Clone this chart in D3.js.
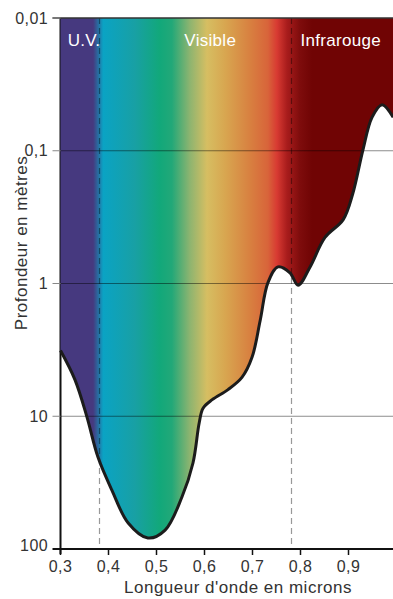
<!DOCTYPE html>
<html>
<head>
<meta charset="utf-8">
<script src="https://cdn.jsdelivr.net/npm/d3@7"></script>
<style>
  body { margin: 0; background: #fff; }
  text { font-family: "Liberation Sans", Arial, sans-serif; }
</style>
</head>
<body>
<div id="chart"></div>
<script>
// curve: penetration depth of light in water (m) by wavelength (microns)
const wavelengths = [0.300, 0.330, 0.355, 0.378, 0.407, 0.441, 0.482, 0.518, 0.553, 0.576, 0.589, 0.597,
  0.616, 0.649, 0.678, 0.699, 0.716, 0.732, 0.753, 0.778, 0.795, 0.820, 0.851, 0.889, 0.909, 0.930,
  0.949, 0.970, 0.993];
const depths = [3.2, 5.3, 10.1, 20.3, 36, 63.7, 82.6, 72, 40.6, 22.5, 11.2, 8.7,
  7.5, 6.3, 5.1, 3.6, 1.9, 0.99, 0.75, 0.83, 1.03, 0.75, 0.45, 0.33, 0.21, 0.099,
  0.056, 0.045, 0.056];

// spectrum colours along the wavelength axis
const spectrumWl = [0.300, 0.368, 0.389, 0.455, 0.507, 0.532, 0.569, 0.605, 0.643, 0.695, 0.732, 0.751, 0.772, 0.799, 0.824, 1.0];
const spectrumColors = ["#46397f", "#46397f", "#0aa3c4", "#18a0a4", "#12a87a", "#22a878", "#8cb470", "#d6be62",
  "#d8a650", "#d88040", "#d8643a", "#d83a32", "#a81c1c", "#7e0c0c", "#700404", "#700404"];

const xTicks = [0.3, 0.4, 0.5, 0.6, 0.7, 0.8, 0.9];
const yTicks = [0.01, 0.1, 1, 10, 100];
const gridValues = [0.1, 1, 10];
const bandLimits = [0.38, 0.78];
const bandLabels = [
  { label: "U.V.", wl: 0.315, anchor: "start" },
  { label: "Visible", wl: 0.612, anchor: "middle" },
  { label: "Infrarouge", wl: 0.8, anchor: "start" }
];

const W = 393, H = 599;
const svg = d3.select("#chart").append("svg")
  .attr("width", W)
  .attr("height", H);

const x = d3.scaleLinear().domain([0.3, 1.0]).range([60.5, 396.5]);
const y = d3.scaleLog().domain([0.01, 100]).range([18, 549]);

const fmt = d => String(d).replace(".", ",");
const data = wavelengths.map((w, i) => ({ w: w, d: depths[i] }));

// gradient
const grad = svg.append("defs").append("linearGradient")
  .attr("id", "spectrum")
  .attr("gradientUnits", "userSpaceOnUse")
  .attr("x1", x(0.3)).attr("y1", 0)
  .attr("x2", x(1.0)).attr("y2", 0);
grad.selectAll("stop")
  .data(spectrumWl)
  .enter().append("stop")
  .attr("offset", d => (d - 0.3) / 0.7)
  .attr("stop-color", (d, i) => spectrumColors[i]);

// left axis line (covered by fill on top)
svg.append("line")
  .attr("x1", x(0.3)).attr("x2", x(0.3))
  .attr("y1", y(0.01)).attr("y2", y(100) + 5)
  .attr("stroke", "#111").attr("stroke-width", 2);

// filled region above curve
const area = d3.area()
  .x(d => x(d.w))
  .y0(y(0.01))
  .y1(d => y(d.d))
  .curve(d3.curveCatmullRom.alpha(0.5));
svg.append("path")
  .datum(data)
  .attr("fill", "url(#spectrum)")
  .attr("d", area);

// grid lines
svg.selectAll(".grid")
  .data(gridValues)
  .enter().append("line")
  .attr("x1", x(0.3)).attr("x2", W)
  .attr("y1", d => y(d)).attr("y2", d => y(d))
  .attr("stroke", "rgba(0,0,0,0.45)")
  .attr("stroke-width", 1);

// band limits
svg.selectAll(".band")
  .data(bandLimits)
  .enter().append("line")
  .attr("x1", d => Math.round(x(d)) + 0.5).attr("x2", d => Math.round(x(d)) + 0.5)
  .attr("y1", y(0.01)).attr("y2", y(100))
  .attr("stroke", "rgba(0,0,0,0.4)")
  .attr("stroke-width", 1.2)
  .attr("stroke-dasharray", "6,4");

// curve line
const line = d3.line()
  .x(d => x(d.w))
  .y(d => y(d.d))
  .curve(d3.curveCatmullRom.alpha(0.5));
svg.append("path")
  .datum(data)
  .attr("fill", "none")
  .attr("stroke", "#1c1c1c")
  .attr("stroke-width", 3)
  .attr("stroke-linejoin", "round")
  .attr("d", line);

// top border
svg.append("line")
  .attr("x1", x(0.3) - 8).attr("x2", W)
  .attr("y1", y(0.01)).attr("y2", y(0.01))
  .attr("stroke", "#333").attr("stroke-width", 1.5);

// x axis
svg.append("line")
  .attr("x1", x(0.3) - 6).attr("x2", W)
  .attr("y1", y(100)).attr("y2", y(100))
  .attr("stroke", "#111").attr("stroke-width", 2);
svg.selectAll(".xtick")
  .data(xTicks)
  .enter().append("line")
  .attr("x1", d => x(d)).attr("x2", d => x(d))
  .attr("y1", y(100)).attr("y2", y(100) + 6)
  .attr("stroke", "#111").attr("stroke-width", 1.5);
svg.selectAll(".xlab")
  .data(xTicks)
  .enter().append("text")
  .attr("x", d => x(d))
  .attr("y", 572)
  .attr("text-anchor", "middle")
  .attr("font-size", 16)
  .attr("letter-spacing", 0.4)
  .attr("fill", "#333")
  .text(fmt);

// y axis ticks
svg.selectAll(".ytick")
  .data(yTicks)
  .enter().append("line")
  .attr("x1", x(0.3) - 8).attr("x2", x(0.3))
  .attr("y1", d => y(d)).attr("y2", d => y(d))
  .attr("stroke", d => d === 100 ? "#111" : "#888")
  .attr("stroke-width", d => d === 100 ? 2 : 1);
svg.selectAll(".ylab")
  .data(yTicks)
  .enter().append("text")
  .attr("x", 48)
  .attr("y", d => y(d))
  .attr("dy", d => d === 100 ? "0.1em" : "0.35em")
  .attr("text-anchor", "end")
  .attr("font-size", 16)
  .attr("letter-spacing", 0.4)
  .attr("fill", "#333")
  .text(fmt);

// band labels
svg.selectAll(".blab")
  .data(bandLabels)
  .enter().append("text")
  .attr("x", d => x(d.wl))
  .attr("y", 46)
  .attr("text-anchor", d => d.anchor)
  .attr("font-size", 17)
  .attr("letter-spacing", 0.3)
  .attr("fill", "#fff")
  .text(d => d.label);

// axis titles
svg.append("text")
  .attr("x", 238).attr("y", 593)
  .attr("text-anchor", "middle")
  .attr("font-size", 17)
  .attr("letter-spacing", 0.5)
  .attr("fill", "#333")
  .text("Longueur d'onde en microns");
svg.append("text")
  .attr("transform", "translate(27,243) rotate(-90)")
  .attr("text-anchor", "middle")
  .attr("font-size", 17)
  .attr("letter-spacing", 0.5)
  .attr("fill", "#333")
  .text("Profondeur en mètres");
</script>
</body>
</html>
